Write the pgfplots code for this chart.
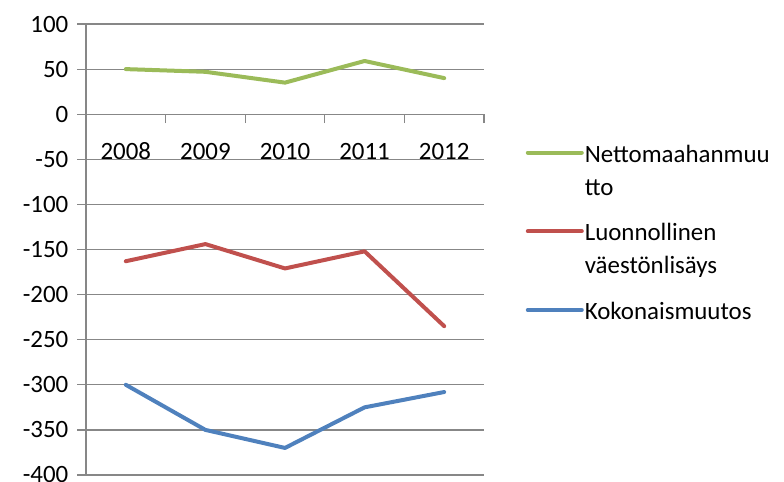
\documentclass[border=0pt]{standalone}
\usepackage{pgfplots}
\pgfplotsset{compat=1.18}
\usepackage{fontspec}
\setmainfont{Carlito}
\definecolor{cgreen}{HTML}{9BBB59}
\definecolor{cred}{HTML}{C0504D}
\definecolor{cblue}{HTML}{4F81BD}
\definecolor{cgrid}{HTML}{878787}
\newcommand{\lt}[1]{\begin{tabular}[t]{@{}l@{}}#1\end{tabular}}
\begin{document}
\fontsize{12.5}{16.5}\selectfont
\begin{tikzpicture}
\useasboundingbox (0,0) rectangle (392bp,241bp);
\begin{axis}[
  at={(43bp,3.5bp)}, anchor=south west,
  scale only axis, width=199bp, height=225.5bp,
  xmin=-0.5, xmax=4.5, ymin=-400, ymax=100,
  axis x line=middle, axis y line=left,
  axis line style={-, draw=cgrid, line width=0.6bp},
  xtick={0,1,2,3,4}, xticklabels={2008,2009,2010,2011,2012},
  minor xtick={0.5,1.5,2.5,3.5,4.5},
  major x tick style={draw=none},
  minor x tick style={draw=cgrid, line width=0.6bp},
  ytick={-400,-350,...,100},
  y tick style={draw=cgrid, line width=0.6bp},
  ymajorgrids, grid style={draw=cgrid, line width=0.6bp},
  tick align=outside, major tick length=4.5bp, minor tick length=4.5bp,
  /pgf/number format/assume math mode=true,
  tick label style={font=\fontsize{12.5}{15}\selectfont},
  xticklabel style={anchor=center, yshift=-14bp},
  yticklabel style={anchor=east},
  clip=false,
  legend cell align=left,
  legend image code/.code={\draw[#1, line width=2bp, line cap=round] (0bp,0bp) -- (27bp,0bp);},
  legend style={draw=none, fill=none, inner sep=0pt, outer sep=0pt,
    at={(1.105,0.7535)}, anchor=north west, row sep=22bp,
    nodes={inner xsep=0.5bp},
    font=\fontsize{12.5}{16.5}\selectfont},
  every axis plot/.append style={line width=2bp, line join=round, line cap=round},
]
\addplot[cgreen] coordinates {(0,50) (1,47) (2,35) (3,59) (4,40)};
\addlegendentry{\lt{Nettomaahanmuu\\tto}}
\addplot[cred] coordinates {(0,-163) (1,-144) (2,-171) (3,-152) (4,-235)};
\addlegendentry{\lt{Luonnollinen\\väestönlisäys}}
\addplot[cblue] coordinates {(0,-300) (1,-350) (2,-370) (3,-325) (4,-308)};
\addlegendentry{\lt{Kokonaismuutos}}
\end{axis}
\end{tikzpicture}
\end{document}
